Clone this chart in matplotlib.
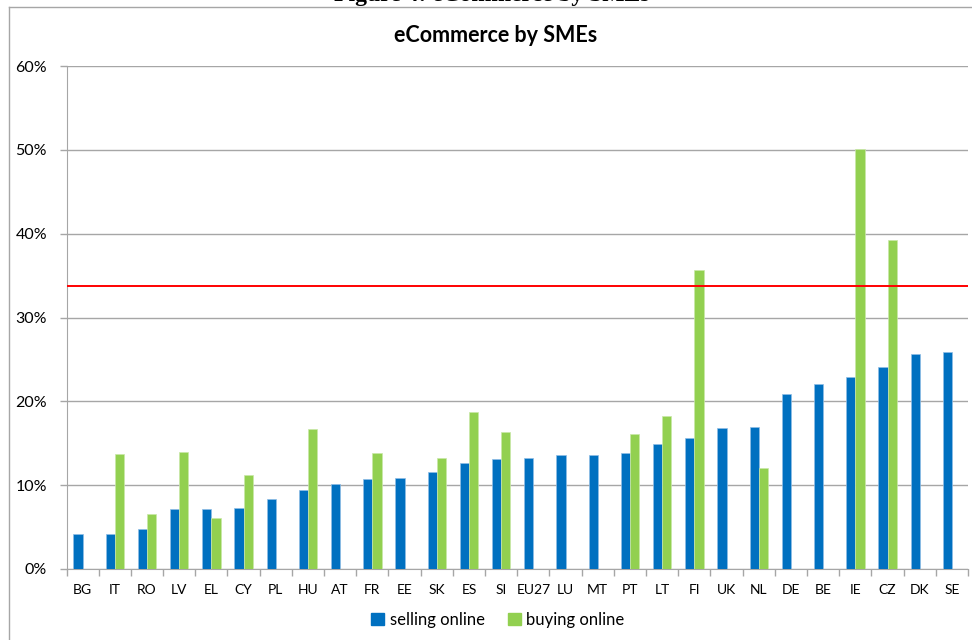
import matplotlib

matplotlib.use("Agg")

import matplotlib.pyplot as plt
import numpy as np
from matplotlib.lines import Line2D
from matplotlib.patches import Patch
from matplotlib.ticker import FuncFormatter

# Datos (en %)
paises = ["BG", "IT", "RO", "LV", "EL", "CY", "PL", "HU", "AT", "FR", "EE", "SK", "ES", "SI",
          "EU27", "LU", "MT", "PT", "LT", "FI", "UK", "NL", "DE", "BE", "IE", "CZ", "DK", "SE"]
venta_online = [4.2, 4.2, 4.8, 7.2, 7.2, 7.3, 8.4, 9.4, 10.1, 10.7, 10.8, 11.6, 12.6, 13.1,
                13.3, 13.6, 13.6, 13.8, 14.9, 15.6, 16.8, 16.9, 20.9, 22.1, 22.9, 24.1, 25.6, 25.9]
compra_online = [np.nan, 13.7, 6.6, 14.0, 6.1, 11.2, np.nan, 16.7, np.nan, 13.8, np.nan, 13.3, 18.7, 16.4,
                 np.nan, np.nan, np.nan, 16.1, 18.2, 35.7, np.nan, 12.0, np.nan, np.nan, 50.1, 39.3, np.nan, np.nan]
umbral = 33.7

AZUL = "#0070C0"
VERDE = "#92D050"
ROJO = "#FF0000"
GRIS = "#a6a6a6"

plt.rcParams["font.family"] = ["Lato", "DejaVu Sans"]

W, H = 972, 640
fig = plt.figure(figsize=(W / 100, H / 100), dpi=100)
ax = fig.add_axes([66.5 / W, 1 - 569 / H, (968 - 66.5) / W, (569 - 66) / H])

x = np.arange(len(paises))
ancho = 1 / 3.5
ax.bar(x - ancho / 2, venta_online, ancho, color=AZUL, edgecolor="#8fbde6", linewidth=0.5, zorder=3)
ax.bar(x + ancho / 2, compra_online, ancho, color=VERDE, edgecolor="#c9e8a8", linewidth=0.5, zorder=3)
ax.axhline(umbral, color=ROJO, linewidth=1.4, zorder=4)

ax.set_xlim(-0.5, len(paises) - 0.5)
ax.set_ylim(0, 60)
ax.set_yticks(np.arange(0, 61, 10))
ax.yaxis.set_major_formatter(FuncFormatter(lambda v, p: f"{v:.0f}%"))
ax.grid(axis="y", color=GRIS, linewidth=1.0, zorder=0)

ax.set_xticks(x)
ax.set_xticklabels(paises)
ax.set_xticks(np.arange(-0.5, len(paises)), minor=True)
ax.tick_params(axis="x", which="major", length=0, pad=11, labelsize=10, colors="#000000")
ax.tick_params(axis="x", which="minor", length=5, width=1, color=GRIS, direction="out")
ax.tick_params(axis="y", length=5, width=1, color=GRIS, pad=9, labelsize=11.5)

for lado in ["top", "right"]:
    ax.spines[lado].set_visible(False)
ax.spines["left"].set_color(GRIS)
ax.spines["bottom"].set_color(GRIS)

fig.text(496 / W, 1 - 35 / H, "eCommerce by SMEs", ha="center", va="center",
         fontsize=15.5, fontweight="bold")
fig.text(492 / W, 1 - 1.5 / H, "Figure 4: eCommerce by SMEs", ha="center", va="baseline",
         fontsize=17, fontweight="bold", family=["Liberation Serif"])

# Marco exterior del grafico
fig.add_artist(Line2D([8.5 / W, 8.5 / W], [0, 1 - 7 / H], color=GRIS, linewidth=1))
fig.add_artist(Line2D([8.5 / W, 1], [1 - 7 / H, 1 - 7 / H], color=GRIS, linewidth=1))

manejadores = [Patch(color=AZUL, label="selling online"), Patch(color=VERDE, label="buying online")]
fig.legend(handles=manejadores, loc="center", bbox_to_anchor=(498 / W, 1 - 620 / H), ncol=2,
           frameon=False, fontsize=12, handlelength=0.75, handleheight=0.75,
           handletextpad=0.35, columnspacing=1.4)

fig.savefig("out.png", dpi=100)
